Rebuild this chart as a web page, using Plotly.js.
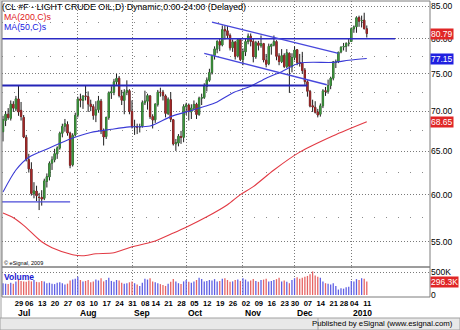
<!DOCTYPE html>
<html><head><meta charset="utf-8">
<script src="https://cdn.plot.ly/plotly-3.0.1.min.js"></script>
<style>html,body{margin:0;padding:0;background:#fff;}#chart{width:460px;height:330px;}</style>
</head><body><div id="chart"></div>
<script>
const dates = [
'2009-06-22','2009-06-23','2009-06-24','2009-06-25','2009-06-26','2009-06-29','2009-06-30',
'2009-07-01','2009-07-02','2009-07-06','2009-07-07','2009-07-08','2009-07-09','2009-07-10','2009-07-13','2009-07-14','2009-07-15','2009-07-16','2009-07-17','2009-07-20','2009-07-21','2009-07-22','2009-07-23','2009-07-24','2009-07-27','2009-07-28','2009-07-29','2009-07-30','2009-07-31',
'2009-08-03','2009-08-04','2009-08-05','2009-08-06','2009-08-07','2009-08-10','2009-08-11','2009-08-12','2009-08-13','2009-08-14','2009-08-17','2009-08-18','2009-08-19','2009-08-20','2009-08-21','2009-08-24','2009-08-25','2009-08-26','2009-08-27','2009-08-28','2009-08-31',
'2009-09-01','2009-09-02','2009-09-03','2009-09-04','2009-09-08','2009-09-09','2009-09-10','2009-09-11','2009-09-14','2009-09-15','2009-09-16','2009-09-17','2009-09-18','2009-09-21','2009-09-22','2009-09-23','2009-09-24','2009-09-25','2009-09-28','2009-09-29','2009-09-30',
'2009-10-01','2009-10-02','2009-10-05','2009-10-06','2009-10-07','2009-10-08','2009-10-09','2009-10-12','2009-10-13','2009-10-14','2009-10-15','2009-10-16','2009-10-19','2009-10-20','2009-10-21','2009-10-22','2009-10-23','2009-10-26','2009-10-27','2009-10-28','2009-10-29','2009-10-30',
'2009-11-02','2009-11-03','2009-11-04','2009-11-05','2009-11-06','2009-11-09','2009-11-10','2009-11-11','2009-11-12','2009-11-13','2009-11-16','2009-11-17','2009-11-18','2009-11-19','2009-11-20','2009-11-23','2009-11-24','2009-11-25','2009-11-27','2009-11-30',
'2009-12-01','2009-12-02','2009-12-03','2009-12-04','2009-12-07','2009-12-08','2009-12-09','2009-12-10','2009-12-11','2009-12-14','2009-12-15','2009-12-16','2009-12-17','2009-12-18','2009-12-21','2009-12-22','2009-12-23','2009-12-24','2009-12-28','2009-12-29','2009-12-30','2009-12-31',
'2010-01-04','2010-01-05','2010-01-06','2010-01-07','2010-01-08','2010-01-11','2010-01-12'];

const open = [
67.40,68.80,69.60,69.10,70.90,70.30,71.60,
70.10,69.20,66.70,64.00,62.90,60.10,60.40,59.70,59.70,59.60,61.50,62.00,63.60,64.00,64.70,65.40,67.20,68.10,68.30,67.20,63.40,67.00,
69.50,71.60,71.40,72.00,71.90,70.90,70.60,69.50,70.20,71.30,67.50,66.80,69.20,72.40,72.50,73.90,74.40,72.00,71.40,72.50,72.70,
70.00,68.00,68.00,68.00,68.10,71.10,71.30,72.00,69.30,68.90,70.90,72.50,72.50,72.00,69.70,71.50,68.90,65.90,66.00,66.80,66.70,
70.60,70.80,69.90,70.40,70.90,69.60,71.70,71.80,73.30,74.10,75.20,77.60,78.50,79.60,79.10,81.40,81.20,80.50,78.70,79.50,77.50,79.90,
77.00,78.10,79.60,80.40,79.60,77.40,79.40,79.00,79.30,76.90,76.40,78.90,79.10,79.60,77.50,76.70,77.60,76.00,77.90,76.00,
77.30,78.40,76.60,76.50,75.50,73.90,72.60,70.70,70.50,69.90,69.60,70.70,72.70,72.60,73.40,74.40,76.60,76.70,78.10,78.80,78.90,79.30,
79.60,81.50,81.80,83.20,82.70,82.80,81.50];

const high = [
69.40,70.00,70.40,71.40,71.30,72.00,73.38,
71.20,69.50,67.00,64.70,63.70,61.40,61.00,60.20,60.50,61.80,62.40,63.80,64.40,65.30,65.60,67.40,68.40,69.00,68.70,67.40,67.20,69.80,
71.90,72.30,72.10,73.40,72.60,71.50,70.90,71.30,72.00,71.60,67.80,69.30,72.60,73.30,74.30,75.00,74.70,72.80,72.90,74.10,72.90,
71.40,68.90,68.40,68.40,71.40,72.70,72.30,72.10,69.60,71.00,72.80,73.10,72.80,72.20,71.80,72.50,69.00,66.50,67.10,67.50,70.90,
71.10,71.00,70.90,71.40,71.10,71.90,72.30,73.70,74.50,75.70,77.70,78.90,79.80,80.00,82.00,82.00,81.90,80.80,79.90,79.70,80.00,80.10,
78.60,80.00,80.80,80.80,80.00,79.70,79.70,80.50,79.40,77.80,79.30,79.30,80.50,79.80,77.90,78.50,77.90,78.50,78.00,77.90,
78.90,78.50,77.80,78.10,75.80,74.10,72.80,71.50,71.30,70.30,71.00,72.90,73.20,74.20,74.60,76.80,77.00,78.10,78.90,79.40,79.50,80.00,
81.70,82.00,83.40,83.50,83.50,83.95,82.00];

const low = [
66.20,68.10,68.90,68.80,69.90,70.00,69.40,
68.80,66.60,63.80,62.50,59.90,59.60,59.30,58.32,58.80,59.40,60.80,61.60,62.80,63.70,64.10,65.20,66.70,67.40,66.90,63.00,63.20,66.80,
69.20,70.50,70.30,71.40,69.90,70.00,68.90,68.60,69.80,67.10,65.70,66.50,68.90,71.60,72.10,73.50,71.80,70.80,69.60,72.10,69.60,
67.80,67.00,67.10,67.30,67.90,70.80,70.20,69.00,67.80,68.50,70.60,71.90,71.40,69.20,69.50,68.60,65.70,65.05,65.60,65.90,66.10,
69.50,68.80,69.00,70.10,69.00,69.40,70.80,71.60,72.60,73.90,74.90,77.00,77.90,78.20,78.90,79.90,80.00,78.30,78.10,77.00,77.30,76.80,
76.20,77.50,79.20,78.90,76.60,77.10,78.30,78.70,76.60,75.90,76.20,77.70,78.90,76.90,76.20,76.50,75.80,75.80,72.40,75.20,
76.90,76.20,76.00,75.00,73.50,71.90,70.50,69.90,69.70,69.20,69.30,70.40,72.00,72.30,72.90,74.10,75.80,76.50,77.90,78.30,78.10,78.90,
79.60,80.90,80.90,81.80,81.70,81.40,80.20];

const close = [
68.90,69.60,69.20,70.90,70.40,71.60,69.89,
69.31,66.73,64.05,62.93,60.14,60.41,59.89,59.69,59.52,61.54,62.02,63.56,63.98,64.72,65.40,67.20,68.05,68.38,67.23,63.35,66.94,69.45,
71.58,71.42,71.97,71.94,70.93,70.60,69.45,70.16,71.36,67.51,66.75,69.19,72.42,72.54,73.89,74.37,72.05,71.43,72.49,72.74,69.96,
68.05,68.05,67.96,68.02,71.10,71.31,72.04,69.29,68.86,70.93,72.51,72.47,72.04,69.71,71.55,68.97,65.89,66.02,66.84,66.71,70.61,
70.82,69.95,70.41,70.88,69.57,71.69,71.77,73.27,74.15,75.18,77.58,78.53,79.61,79.09,81.37,81.19,80.50,78.68,79.55,77.46,79.87,77.00,
78.13,79.60,80.40,79.62,77.43,79.43,79.05,79.28,76.94,76.35,78.90,79.14,79.58,77.46,76.72,77.56,76.02,77.96,76.05,77.28,
78.37,76.60,76.46,75.47,73.93,72.62,70.67,70.54,69.87,69.51,70.69,72.66,72.58,73.36,74.40,76.67,76.67,78.05,78.77,78.87,79.28,79.36,
81.51,81.77,83.18,82.66,82.75,81.52,80.79];

// volume in thousands of contracts
const volumeK = [
260,250,240,270,250,300,330,310,300,290,320,300,330,290,280,310,300,260,270,
250,240,270,280,260,230,250,320,340,360,400,330,300,310,330,280,300,340,
320,370,300,330,380,310,290,330,320,270,250,260,280,300,260,230,200,270,
360,340,370,300,280,260,240,220,200,250,290,350,300,260,240,300,330,290,
270,300,330,380,350,300,310,330,320,350,300,310,360,370,330,290,300,330,
340,310,370,340,300,320,350,310,290,330,340,360,300,310,330,350,380,300,
320,290,260,330,370,390,360,380,400,420,460,520,430,400,380,300,260,250,
230,260,200,120,150,140,170,180,310,300,350,330,370,360,296.3];

const ma50Dates = ['2009-06-22','2009-06-29','2009-07-07','2009-07-17','2009-07-29','2009-08-10','2009-08-20','2009-08-31','2009-09-11','2009-09-23','2009-10-02','2009-10-12','2009-10-19','2009-10-27','2009-11-05','2009-11-13','2009-11-23','2009-12-03','2009-12-22','2009-12-31','2010-01-12'];
const ma50 = [60.3,62.8,64.3,65.4,66.5,67.3,67.7,68.0,68.1,69.3,70.0,70.6,71.2,72.4,73.3,74.4,75.3,76.5,76.6,76.9,77.15];

const ma200Dates = ['2009-06-22','2009-06-26','2009-07-02','2009-07-14','2009-07-20','2009-07-30','2009-08-05','2009-08-12','2009-08-21','2009-09-01','2009-09-14','2009-09-24','2009-10-01','2009-10-13','2009-10-23','2009-10-30','2009-11-06','2009-11-18','2009-12-03','2009-12-22','2010-01-12'];
const ma200 = [58.0,57.5,56.7,55.0,54.4,53.7,53.6,53.8,53.9,54.5,55.0,55.9,56.5,57.6,58.9,60.0,60.9,62.8,64.9,66.9,68.65];

const tickDates = ['2009-06-29','2009-07-06','2009-07-13','2009-07-20','2009-07-27','2009-08-03','2009-08-10','2009-08-17','2009-08-24','2009-08-31','2009-09-08','2009-09-14','2009-09-21','2009-09-28','2009-10-05','2009-10-12','2009-10-19','2009-10-26','2009-11-02','2009-11-09','2009-11-16','2009-11-23','2009-11-30','2009-12-07','2009-12-14','2009-12-21','2009-12-28','2010-01-04','2010-01-11'];
const tickLabels = ['29','06','13','20','27','03','10','17','24','31','08','14','21','28','05','12','19','26','02','09','16','23','30','07','14','21','28','04','11'];

const monthDates = ['2009-06-29','2009-08-03','2009-09-01','2009-10-01','2009-11-02','2009-12-01','2010-01-04'];
const monthLabels = ['Jul','Aug','Sep','Oct','Nov','Dec','2010'];

const priceTicks = [55,60,65,70,75,80,85];
const priceMinor = [57.5,62.5,67.5,72.5,77.5,82.5];

// drawn trend lines, in bar positions and prices
const trendStartBar = [-1,-1,-1,81,78];
const trendStartPrice = [80.0,73.4,59.2,82.5,77.9];
const trendEndBar = [152,118,26,130,125.5];
const trendEndPrice = [80.0,73.4,59.2,77.9,73.5];

// ---------- drawing ----------
const idx = d => dates.indexOf(d);
const xs = dates.map((d,i)=>i);
const bodyHi = open.map((o,i)=>Math.max(o,close[i]));
const bodyLo = open.map((o,i)=>Math.min(o,close[i]));
const UP='#3d9a3d', DN='#a82828', WICK='#1e1e1e';
const trendW = [1.5,2,1.2,1.3,1.3];
const trendC = ['#2b2bc4','#2424b8','#4a4ad8','#4747dc','#4747dc'];

const traces = [];
traces.push({type:'candlestick',x:xs,open:open,high:high,low:low,close:close,xaxis:'x',yaxis:'y',
  increasing:{line:{color:WICK,width:1},fillcolor:WICK},decreasing:{line:{color:WICK,width:1},fillcolor:WICK},
  whiskerwidth:0,hoverinfo:'skip',showlegend:false});
traces.push({type:'candlestick',x:xs,open:open,high:bodyHi,low:bodyLo,close:close,xaxis:'x',yaxis:'y',
  increasing:{line:{color:UP,width:0.6},fillcolor:UP},decreasing:{line:{color:DN,width:0.6},fillcolor:DN},
  whiskerwidth:0,hoverinfo:'skip',showlegend:false});
traces.push({type:'scatter',mode:'lines',x:ma200Dates.map(idx),y:ma200,xaxis:'x',yaxis:'y',
  line:{color:'#e23a44',width:1.1,shape:'spline',smoothing:0.8},hoverinfo:'skip'});
traces.push({type:'scatter',mode:'lines',x:ma50Dates.map(idx),y:ma50,xaxis:'x',yaxis:'y',
  line:{color:'#3a3ad6',width:1.1,shape:'spline',smoothing:0.8},hoverinfo:'skip'});
for(let k=0;k<trendStartBar.length;k++){
  traces.push({type:'scatter',mode:'lines',x:[trendStartBar[k],trendEndBar[k]],y:[trendStartPrice[k],trendEndPrice[k]],
    xaxis:'x',yaxis:'y',line:{color:trendC[k],width:trendW[k]},hoverinfo:'skip'});
}
const volColors = close.map((c,i)=> (i===0 ? c>=open[0] : c>=close[i-1]) ? '#5f5fe4' : '#e66464');
traces.push({type:'bar',x:xs,y:volumeK.map(v=>v*1000),xaxis:'x',yaxis:'y2',width:0.5,
  marker:{color:volColors,line:{width:0}},hoverinfo:'skip'});

const plotW = 428, plotH = 296;
const volFrac = 30/plotH;
const py = px => (297-px)/plotH;      // pixel row -> paper y
const pxx = px => (px-2)/plotW;       // pixel col -> paper x
const F = 'Liberation Sans, Arial, sans-serif';
const last = close.length-1;

const annotations = [
 {xref:'paper',yref:'paper',x:pxx(2),y:py(16.5),xanchor:'left',yanchor:'middle',text:'MA(200,C)s',showarrow:false,font:{family:F,size:8.8,color:'#e01818'}},
 {xref:'paper',yref:'paper',x:pxx(2),y:py(27),xanchor:'left',yanchor:'middle',text:'MA(50,C)s',showarrow:false,font:{family:F,size:8.8,color:'#1818e0'}},
 {xref:'paper',yref:'paper',x:pxx(2),y:py(262.5),xanchor:'left',yanchor:'middle',text:'© eSignal, 2009',showarrow:false,font:{family:F,size:5.5,color:'#000'}},
 {xref:'paper',yref:'paper',x:pxx(2),y:py(276.5),xanchor:'left',yanchor:'middle',text:'<b>Volume</b>',showarrow:false,font:{family:F,size:8.5,color:'#1a1ad0'}},
 {xref:'paper',yref:'paper',x:pxx(455),y:py(323.5),xanchor:'right',yanchor:'middle',text:'Published by eSignal (www.esignal.com)',showarrow:false,font:{family:F,size:7.8,color:'#000'}},
 {xref:'paper',yref:'y',x:1,xshift:0,y:Math.log10(close[last]),xanchor:'left',yanchor:'middle',text:close[last].toFixed(2),showarrow:false,bgcolor:'#e02626',borderpad:0,font:{family:F,size:8.5,color:'#fff'}},
 {xref:'paper',yref:'y',x:1,y:Math.log10(ma50[ma50.length-1]),xanchor:'left',yanchor:'middle',text:ma50[ma50.length-1].toFixed(2),showarrow:false,bgcolor:'#2020e0',borderpad:0,font:{family:F,size:8.5,color:'#fff'}},
 {xref:'paper',yref:'y',x:1,y:Math.log10(ma200[ma200.length-1]),xanchor:'left',yanchor:'middle',text:ma200[ma200.length-1].toFixed(2),showarrow:false,bgcolor:'#e02626',borderpad:0,font:{family:F,size:8.5,color:'#fff'}},
 {xref:'paper',yref:'y2',x:1,y:volumeK[last]*1000,xanchor:'left',yanchor:'middle',text:volumeK[last].toFixed(1)+'K',showarrow:false,bgcolor:'#e02626',borderpad:0,font:{family:F,size:8.5,color:'#fff'}}
];
monthDates.forEach((d,k)=>annotations.push({xref:'x',yref:'paper',x:idx(d),y:py(313),xanchor:'left',yanchor:'middle',
  text:'<b>'+monthLabels[k]+'</b>',showarrow:false,font:{family:F,size:8.5,color:'#000'}}));

const shapes = [
 {type:'rect',xref:'paper',yref:'paper',x0:pxx(0),x1:pxx(2),y0:py(318),y1:py(0),fillcolor:'#cfcfcf',line:{width:0},layer:'below'},
 {type:'rect',xref:'paper',yref:'paper',x0:pxx(0),x1:pxx(460),y0:py(330),y1:py(318),fillcolor:'#e8e8e8',line:{color:'#a0a0a0',width:1},layer:'below'},
 {type:'line',xref:'paper',yref:'paper',x0:pxx(318),x1:pxx(318),y0:py(330),y1:py(318),line:{color:'#a0a0a0',width:1}},
 {type:'rect',xref:'paper',yref:'paper',x0:0,x1:1,y0:volFrac,y1:1,line:{color:'#7c7c7c',width:1},fillcolor:'rgba(0,0,0,0)'},
 {type:'rect',xref:'paper',yref:'paper',x0:0,x1:1,y0:0,y1:volFrac,line:{color:'#7c7c7c',width:1},fillcolor:'rgba(0,0,0,0)'}
];

const layout = {
 width:460,height:330,margin:{l:2,r:30,t:1,b:33,pad:0},
 paper_bgcolor:'#ffffff',plot_bgcolor:'#ffffff',showlegend:false,hovermode:false,
 title:{text:'(CL #F - LIGHT CRUDE OIL,D) Dynamic,0:00-24:00 (Delayed)',xref:'container',yref:'container',
   x:2/460,xanchor:'left',y:1-6.5/330,yanchor:'middle',font:{family:F,size:8.8,color:'#000'}},
 xaxis:{type:'linear',range:[-0.39,165.5],anchor:'y2',domain:[0,1],showgrid:false,zeroline:false,showline:false,
   ticks:'',tickmode:'array',tickvals:tickDates.map(idx),ticktext:tickLabels,ticklabelshift:3,tickangle:0,
   tickfont:{family:F,size:7.6,color:'#000',weight:'bold'},
   minor:{tickmode:'array',tickvals:monthDates.slice(1).map(idx),showgrid:true,gridcolor:'#7a7a7a',gridwidth:1,griddash:'1px,2px',ticks:''},
   rangeslider:{visible:false},fixedrange:true},
 yaxis:{type:'log',domain:[volFrac,1],anchor:'x',side:'right',range:[Math.log10(52.5),Math.log10(85.79)],
   tickmode:'array',tickvals:priceTicks,ticktext:priceTicks.map(v=>v.toFixed(2)),ticks:'',
   showgrid:true,gridcolor:'#7a7a7a',gridwidth:1,griddash:'1px,2px',zeroline:false,showline:false,
   tickfont:{family:F,size:8.5,color:'#000'},
   minor:{tickmode:'array',tickvals:priceMinor,showgrid:true,gridcolor:'#8a8a8a',gridwidth:1,griddash:'1px,11px',ticks:''},
   fixedrange:true},
 yaxis2:{domain:[0,volFrac],anchor:'x',side:'right',range:[-44000,617000],
   tickmode:'array',tickvals:[0,500000],ticktext:['0','500K'],ticks:'',showgrid:false,zeroline:false,showline:false,
   tickfont:{family:F,size:8.5,color:'#000'},
   minor:{tickmode:'array',tickvals:[500000],showgrid:true,gridcolor:'#7a7a7a',gridwidth:1,griddash:'1px,2px',ticks:''},
   fixedrange:true},
 annotations:annotations,shapes:shapes
};
Plotly.newPlot('chart',traces,layout,{staticPlot:true,displayModeBar:false});
</script></body></html>
